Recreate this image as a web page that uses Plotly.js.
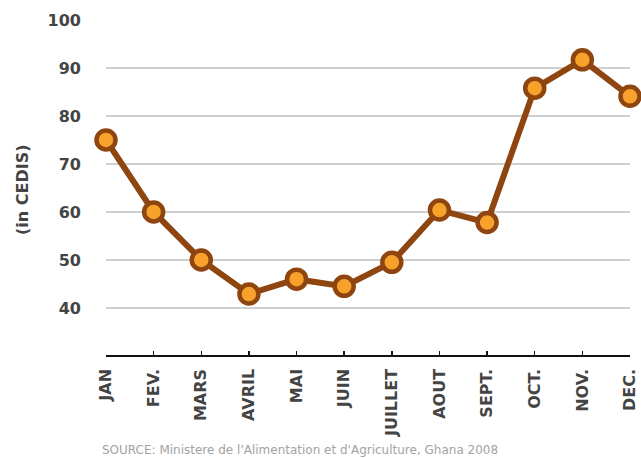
<!DOCTYPE html>
<html>
<head>
<meta charset="utf-8">
<script src="https://cdn.plot.ly/plotly-3.0.1.min.js"></script>
<style>
  html, body { margin: 0; padding: 0; background: #fff; }
  #chart { width: 641px; height: 458px; }
</style>
</head>
<body>
<div id="chart"></div>
<script>
const months = ["JAN", "FEV.", "MARS", "AVRIL", "MAI", "JUIN", "JUILLET", "AOUT", "SEPT.", "OCT.", "NOV.", "DEC."];
const prices = [75, 60, 50, 42.9, 46, 44.5, 49.5, 60.4, 57.8, 85.8, 91.7, 84.1];
const yTicks = [40, 50, 60, 70, 80, 90, 100];
const yTitle = "(in CEDIS)";
const sourceText = "SOURCE: Ministere de l'Alimentation et d'Agriculture, Ghana 2008";

const FONT = "DejaVu Sans, Liberation Sans, Arial, sans-serif";

const trace = {
  x: months.map((m, i) => i),
  y: prices,
  type: "scatter",
  mode: "lines+markers",
  cliponaxis: false,
  line: { color: "#8e4510", width: 6 },
  marker: {
    size: 19,
    color: "#f8a22c",
    line: { color: "#8e4510", width: 4.5 }
  },
  hoverinfo: "skip"
};

const layout = {
  width: 641,
  height: 458,
  margin: { l: 106, r: 11, t: 20, b: 103 },
  paper_bgcolor: "#ffffff",
  plot_bgcolor: "#ffffff",
  showlegend: false,
  font: { family: FONT, color: "#333" },
  xaxis: {
    range: [0, 11],
    tickvals: months.map((m, i) => i),
    ticktext: months,
    tickangle: -90,
    showgrid: false,
    zeroline: false,
    showline: true,
    linecolor: "#111",
    linewidth: 1.5,
    ticks: "inside",
    ticklen: 4,
    tickwidth: 1.5,
    tickcolor: "#111",
    ticklabelstandoff: 6,
    tickfont: { family: FONT, size: 16, color: "#444444", weight: "bold" },
    fixedrange: true
  },
  yaxis: {
    range: [30.2, 100],
    tickvals: yTicks,
    showgrid: true,
    gridcolor: "#cfcfcf",
    gridwidth: 1.5,
    zeroline: false,
    showline: false,
    ticks: "",
    ticklabelstandoff: 24,
    tickfont: { family: FONT, size: 16, color: "#444444", weight: "bold" },
    fixedrange: true
  },
  annotations: [
    {
      text: yTitle,
      xref: "paper", yref: "paper",
      x: (22 - 106) / 524, y: (355 - 190) / 335,
      xanchor: "center", yanchor: "middle",
      textangle: -90,
      showarrow: false,
      font: { family: FONT, size: 16, color: "#444444", weight: "bold" }
    },
    {
      text: sourceText,
      xref: "paper", yref: "paper",
      x: (100 - 106) / 524, y: (355 - 450) / 335,
      xanchor: "left", yanchor: "middle",
      showarrow: false,
      font: { family: FONT, size: 12, color: "#a3a3a3" }
    }
  ]
};

Plotly.newPlot("chart", [trace], layout, { displayModeBar: false, staticPlot: true });
</script>
</body>
</html>
